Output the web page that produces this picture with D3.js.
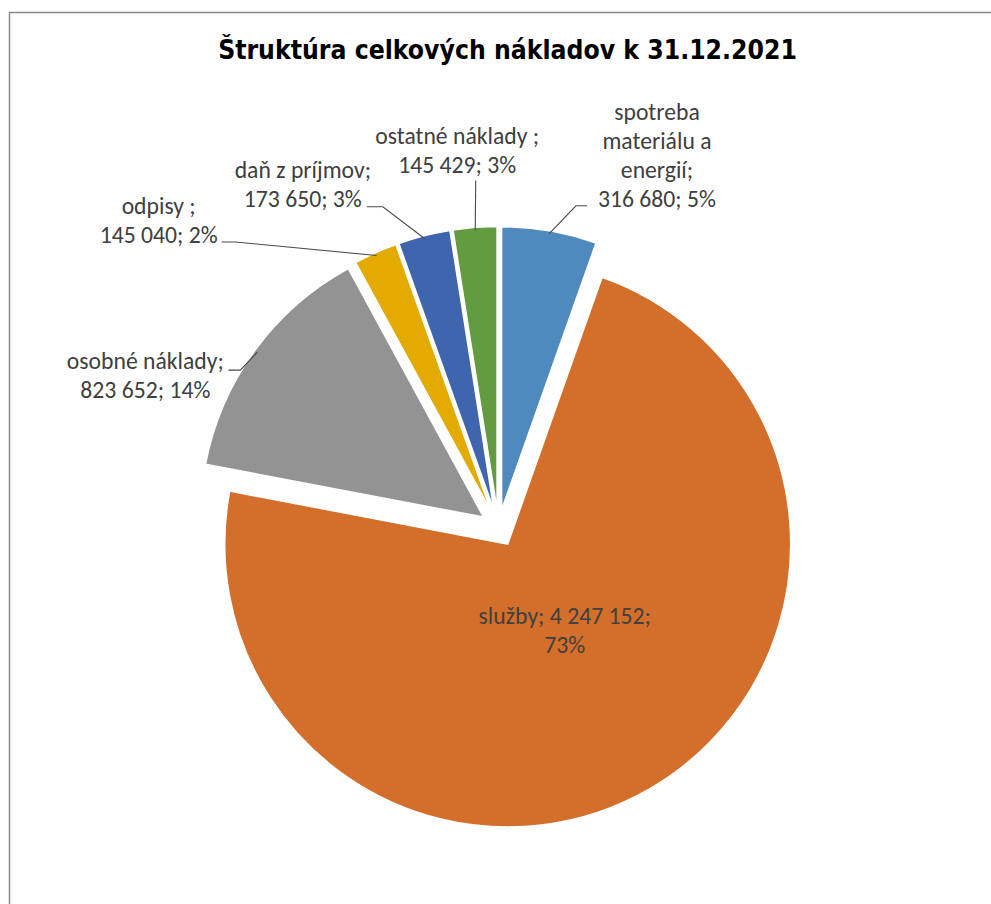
<!DOCTYPE html>
<html>
<head>
<meta charset="utf-8">
<script src="https://cdn.jsdelivr.net/npm/d3@7"></script>
<style>
  html, body { margin: 0; padding: 0; background: #fff; }
  svg { display: block; }
</style>
</head>
<body>
<svg id="chart" width="991" height="904"></svg>
<script>
// ---- data ----
const title = "Štruktúra celkových nákladov k 31.12.2021";
const categories = ["spotreba materiálu a energií", "služby", "osobné náklady", "odpisy ", "daň z príjmov", "ostatné náklady "];
const values = [316680, 4247152, 823652, 145040, 173650, 145429];
const percents = ["5%", "73%", "14%", "2%", "3%", "3%"];
const valueLabels = ["316 680", "4 247 152", "823 652", "145 040", "173 650", "145 429"];
const colors = ["#4F8ABF", "#D46F2B", "#939393", "#E3AA00", "#3E65AD", "#639B40"];
// label text lines as wrapped in the reference
const labelLines = [
  ["spotreba", "materiálu a", "energií;", "316 680; 5%"],
  ["služby; 4 247 152;", "73%"],
  ["osobné náklady;", "823 652; 14%"],
  ["odpisy ;", "145 040; 2%"],
  ["daň z príjmov;", "173 650; 3%"],
  ["ostatné náklady ;", "145 429; 3%"]
];

// ---- layout ----
const cx = 498.5, cy = 528, R = 283, explode = 18.5;
// label placement: offsets relative to the leader start point on the slice edge
// (inside label: relative to slice centre). tx = text centre x, by = last baseline
const labelLayout = [
  { inside: false, elbow: [27, -28], end: [38, -28], tx: 108, by: -27 },
  { inside: true, tx: 57, by: 109 },
  { inside: false, elbow: [-17, 18], end: [-29, 18], tx: -112, by: 46 },
  { inside: false, elbow: [-141, -13.5], end: [-155, -13.5], tx: -218, by: -12.5 },
  { inside: false, elbow: [-42, -32], end: [-58, -32], tx: -122, by: -32 },
  { inside: false, elbow: [0.5, -50], end: [0.5, -50], tx: -18, by: -57 }
];
const lineH = 29;

const svg = d3.select("#chart");

// chart frame
svg.append("rect")
  .attr("x", 9.5).attr("y", 12.5).attr("width", 1000).attr("height", 1000)
  .attr("fill", "#fff").attr("stroke", "#8a8a8a").attr("stroke-width", 1.5);

// title, fitted to reference width
const titleEl = svg.append("text")
  .attr("x", 507.5).attr("y", 59)
  .attr("text-anchor", "middle")
  .attr("font-family", "'DejaVu Sans Condensed', 'DejaVu Sans', sans-serif")
  .attr("font-weight", "bold")
  .attr("font-size", 24)
  .attr("fill", "#000")
  .text(title);
{
  const w = titleEl.node().getComputedTextLength();
  titleEl.attr("font-size", 24 * 579 / w);
}

// label font size fitted so that a reference string matches its width
const labelFont = "Carlito, Lato, 'Open Sans', sans-serif";
let labelSize = 22;
{
  const t = svg.append("text").attr("font-family", labelFont).attr("font-size", 100).text("316 680; 5%");
  const w = t.node().getComputedTextLength();
  labelSize = 100 * 118 / w;
  t.remove();
}

const pie = d3.pie().sort(null).value(d => d)
  .startAngle(0).endAngle(2 * Math.PI);
const arcs = pie(values);
const arcGen = d3.arc().innerRadius(0).outerRadius(R);

const g = svg.append("g");

arcs.forEach((a, i) => {
  const mid = (a.startAngle + a.endAngle) / 2;
  const ox = cx + explode * Math.sin(mid);
  const oy = cy - explode * Math.cos(mid);
  g.append("path")
    .attr("transform", `translate(${ox},${oy})`)
    .attr("d", arcGen(a))
    .attr("fill", colors[i])
    .attr("stroke", "#fff")
    .attr("stroke-width", 1.5)
    .attr("stroke-linejoin", "miter");
});

arcs.forEach((a, i) => {
  const mid = (a.startAngle + a.endAngle) / 2;
  const ox = cx + explode * Math.sin(mid);
  const oy = cy - explode * Math.cos(mid);
  const L = labelLayout[i];
  let px, py;
  if (L.inside) {
    px = ox; py = oy;
  } else {
    px = ox + (R - 3) * Math.sin(mid);
    py = oy - (R - 3) * Math.cos(mid);
    const pts = [[px, py], [px + L.elbow[0], py + L.elbow[1]], [px + L.end[0], py + L.end[1]]];
    svg.append("path")
      .attr("d", d3.line()(pts))
      .attr("fill", "none")
      .attr("stroke", "#4a4a4a")
      .attr("stroke-width", 1.1);
  }
  const lines = labelLines[i];
  const t = svg.append("text")
    .attr("font-family", labelFont)
    .attr("font-size", labelSize)
    .attr("fill", "#404040")
    .attr("text-anchor", "middle");
  lines.forEach((ln, k) => {
    t.append("tspan")
      .attr("x", px + L.tx)
      .attr("y", py + L.by - (lines.length - 1 - k) * lineH)
      .text(ln);
  });
});
</script>
</body>
</html>
